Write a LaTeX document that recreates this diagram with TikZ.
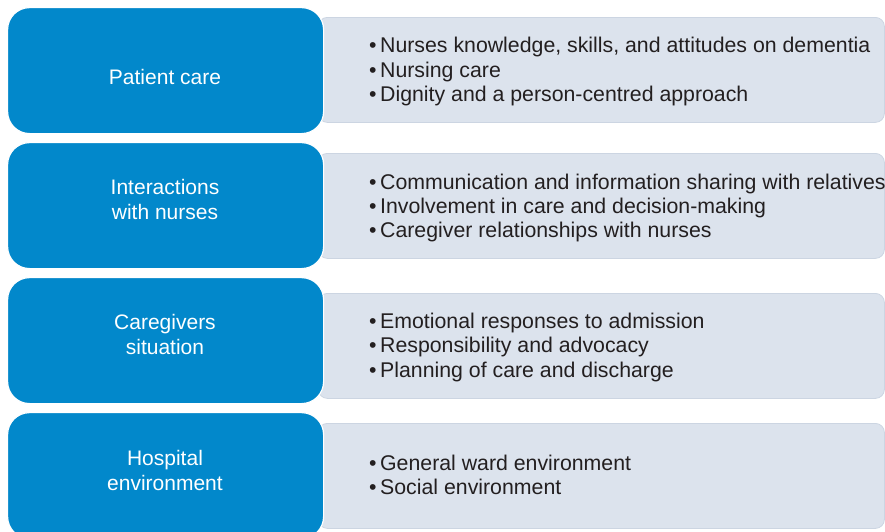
\documentclass[tikz,border=0pt]{standalone}
\usepackage{fontspec}
\setmainfont{Liberation Sans}
\definecolor{catblue}{RGB}{2,136,203}
\definecolor{itemgray}{RGB}{220,227,237}
\definecolor{itemedge}{RGB}{204,213,226}
\definecolor{itemtext}{RGB}{35,31,32}
\newcommand{\bul}{•\kern3.5pt}
\begin{document}
\begin{tikzpicture}[x=1pt,y=-1pt,
  catbox/.style={draw=white,line width=1.2pt,fill=catblue,rounded corners=22pt,
    minimum width=316pt,minimum height=126pt,anchor=north west,inner sep=0pt},
  itembox/.style={draw=itemedge,line width=0.8pt,fill=itemgray,rounded corners=9pt,
    minimum width=566pt,minimum height=105pt,anchor=north west,inner sep=0pt},
  catlabel/.style={text=white,font=\fontsize{21}{25}\selectfont,anchor=base,inner sep=0pt},
  itemline/.style={text=itemtext,font=\fontsize{21.3}{25}\selectfont,anchor=base west,inner sep=0pt}]
\useasboundingbox (0,0) rectangle (885,531);
% grey item boxes
\node[itembox] (g1) at (318,17) {};
\node[itembox] (g2) at (318,153) {};
\node[itembox] (g3) at (318,293) {};
\node[itembox] (g4) at (318,423) {};
% blue category boxes
\node[catbox] (b1) at (7,7) {};
\node[catbox] (b2) at (7,142) {};
\node[catbox] (b3) at (7,277) {};
\node[catbox] (b4) at (7,412) {};
% category labels
\node[catlabel] (l1) at (165,84) {Patient care};
\node[catlabel] (l2a) at (165,194) {Interactions};
\node[catlabel] (l2b) at (165,219) {with nurses};
\node[catlabel] (l3a) at (165,329) {Caregivers};
\node[catlabel] (l3b) at (165,354) {situation};
\node[catlabel] (l4a) at (165,465) {Hospital};
\node[catlabel] (l4b) at (165,490) {environment};
% item lines
\node[itemline] (i11) at (369,52) {\bul Nurses knowledge, skills, and attitudes on dementia};
\node[itemline] (i12) at (369,77) {\bul Nursing care};
\node[itemline] (i13) at (369,101) {\bul Dignity and a person-centred approach};
\node[itemline] (i21) at (369,189) {\bul Communication and information sharing with relatives};
\node[itemline] (i22) at (369,213) {\bul Involvement in care and decision-making};
\node[itemline] (i23) at (369,237) {\bul Caregiver relationships with nurses};
\node[itemline] (i31) at (369,328) {\bul Emotional responses to admission};
\node[itemline] (i32) at (369,352) {\bul Responsibility and advocacy};
\node[itemline] (i33) at (369,377) {\bul Planning of care and discharge};
\node[itemline] (i41) at (369,470) {\bul General ward environment};
\node[itemline] (i42) at (369,494) {\bul Social environment};
\end{tikzpicture}
\end{document}
